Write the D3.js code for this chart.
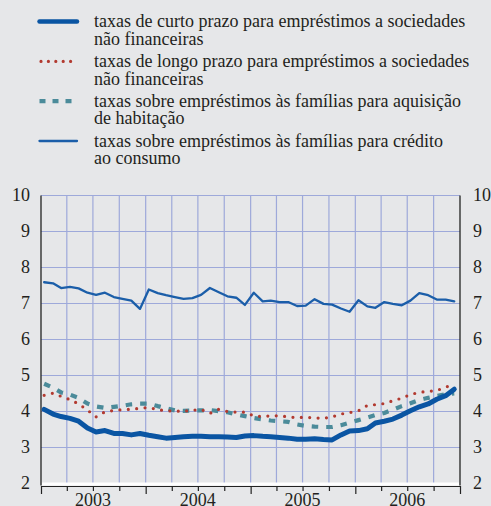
<!DOCTYPE html>
<html><head><meta charset="utf-8">
<script src="https://cdn.jsdelivr.net/npm/d3@7"></script>
<style>html,body{margin:0;padding:0;background:#e6e7e9;overflow:hidden}svg{display:block}</style>
</head><body><svg id="c" width="491" height="506"></svg>
<script>
// ---- data ----
const startMonth = new Date(2003, 0, 1);
const months = d3.timeMonth.range(new Date(2003, 0, 1), new Date(2007, 0, 1)); // Jan 2003 .. Dec 2006
const yearLabels = ["2003", "2004", "2005", "2006"];
const yTicks = [2, 3, 4, 5, 6, 7, 8, 9, 10];

const shortTerm = [4.06,3.93,3.86,3.81,3.73,3.54,3.43,3.47,3.39,3.39,3.35,3.39,
                   3.34,3.30,3.26,3.28,3.30,3.31,3.31,3.30,3.30,3.29,3.28,3.32,
                   3.33,3.31,3.30,3.28,3.26,3.23,3.23,3.24,3.22,3.21,3.35,3.46,
                   3.47,3.52,3.68,3.73,3.79,3.90,4.02,4.13,4.21,4.34,4.44,4.62];
const longTerm = [4.45,4.51,4.42,4.33,4.21,4.04,3.85,3.99,4.03,4.05,4.06,4.09,
                  4.11,4.05,4.02,4.01,4.01,4.03,4.06,3.95,4.06,4.00,3.98,3.98,
                  3.88,3.86,3.88,3.88,3.85,3.83,3.84,3.82,3.81,3.85,3.93,3.97,
                  4.02,4.17,4.19,4.22,4.30,4.37,4.47,4.53,4.56,4.58,4.68,4.74];
const housing = [4.77,4.66,4.53,4.47,4.38,4.22,4.14,4.10,4.13,4.16,4.20,4.22,
                 4.22,4.15,4.09,4.03,4.02,4.03,4.03,4.04,4.01,3.98,3.92,3.87,
                 3.82,3.78,3.75,3.73,3.71,3.64,3.60,3.58,3.57,3.57,3.62,3.69,
                 3.76,3.83,3.90,3.96,4.05,4.15,4.23,4.32,4.38,4.43,4.48,4.50];
const consumer = [7.59,7.56,7.43,7.46,7.42,7.30,7.24,7.30,7.18,7.13,7.08,6.85,
                  7.39,7.29,7.23,7.18,7.13,7.15,7.24,7.43,7.31,7.20,7.16,6.96,
                  7.30,7.06,7.08,7.04,7.04,6.93,6.94,7.12,6.99,6.97,6.86,6.77,
                  7.09,6.92,6.88,7.04,6.99,6.95,7.08,7.29,7.23,7.11,7.11,7.06];

const legendLabels = [
  ["taxas de curto prazo para empréstimos a sociedades", "não financeiras"],
  ["taxas de longo prazo para empréstimos a sociedades", "não financeiras"],
  ["taxas sobre empréstimos às famílias para aquisição", "de habitação"],
  ["taxas sobre empréstimos às famílias para crédito", "ao consumo"]
];

// ---- styles ----
const FONT = "'Liberation Serif','Times New Roman',serif";
const styles = [
  {color: "#0a55a3", width: 5, dash: null, cap: "round"},
  {color: "#b23a30", width: 3.2, dash: "0 8.4", cap: "round"},
  {color: "#4b8b9a", width: 4.2, dash: "6.5 8", cap: "butt"},
  {color: "#1b5ea9", width: 2.3, dash: null, cap: "round"}
];
const seriesData = [shortTerm, longTerm, housing, consumer];

const svg = d3.select("#c");
const L = 41, R = 460, T = 195.5, B = 483.5;

const x = d3.scaleTime().domain([new Date(2003,0,1), new Date(2007,0,1)]).range([L, R]);
const y = d3.scaleLinear().domain([2, 10]).range([B, T]);

// gridlines
const quarters = d3.timeMonth.every(3).range(new Date(2003,0,1), new Date(2007,0,2));
svg.append("g").selectAll("line.v").data(quarters.slice(1, -1)).join("line")
  .attr("x1", d => x(d)).attr("x2", d => x(d)).attr("y1", T).attr("y2", B)
  .attr("stroke", "#9ea9da").attr("stroke-width", 1.2);
svg.append("g").selectAll("line.h").data(yTicks.slice(1)).join("line")
  .attr("x1", L).attr("x2", R).attr("y1", d => y(d)).attr("y2", d => y(d))
  .attr("stroke", "#9ea9da").attr("stroke-width", 1.2);

// axes lines
svg.append("line").attr("x1", L).attr("x2", L).attr("y1", T).attr("y2", B+2)
  .attr("stroke", "#222").attr("stroke-width", 1.3);
svg.append("line").attr("x1", R).attr("x2", R).attr("y1", T).attr("y2", B+2)
  .attr("stroke", "#222").attr("stroke-width", 1.3);
svg.append("line").attr("x1", L+1).attr("x2", R-1).attr("y1", B+0.5).attr("y2", B+0.5)
  .attr("stroke", "#ffffff").attr("stroke-width", 3);

// bottom axis with quarterly ticks
const xAxis = d3.axisBottom(x).tickValues(quarters).tickFormat("").tickSizeOuter(0);
const gx = svg.append("g").attr("transform", `translate(0,${B+2.5})`).call(xAxis);
gx.select(".domain").attr("stroke", "#222").attr("stroke-width", 1.2);
gx.selectAll(".tick line").attr("stroke", "#222").attr("stroke-width", 1.2)
  .attr("y2", d => d.getMonth() === 0 ? 8 : 5);

// year labels (mid-year)
svg.append("g").selectAll("text").data(yearLabels).join("text")
  .attr("x", d => x(new Date(+d, 6, 1))).attr("y", 506)
  .attr("text-anchor", "middle").attr("font-family", FONT).attr("font-size", 18)
  .attr("fill", "#231f20").text(d => d);

// y labels left and right
const yAxisL = d3.axisLeft(y).tickValues(yTicks).tickSize(0).tickPadding(11);
const gl = svg.append("g").attr("transform", `translate(${L},0)`).call(yAxisL);
gl.select(".domain").remove();
gl.selectAll("text").attr("font-family", FONT).attr("font-size", 18).attr("fill", "#231f20").attr("dy", "0.28em");
const yAxisR = d3.axisRight(y).tickValues(yTicks).tickSize(0).tickPadding(13);
const gr = svg.append("g").attr("transform", `translate(${R},0)`).call(yAxisR);
gr.select(".domain").remove();
gr.selectAll("text").attr("font-family", FONT).attr("font-size", 18).attr("fill", "#231f20").attr("dy", "0.28em");

// series
const line = d3.line().x((d, i) => x(d3.timeDay.offset(months[i], 11))).y(d => y(d));
const drawOrder = [3, 2, 1, 0];
drawOrder.forEach(k => {
  const s = styles[k];
  svg.append("path").datum(seriesData[k]).attr("d", line)
    .attr("fill", "none").attr("stroke", s.color).attr("stroke-width", s.width)
    .attr("stroke-linejoin", "round").attr("stroke-linecap", s.cap)
    .attr("stroke-dasharray", s.dash);
});

// legend
const lg = svg.append("g");
legendLabels.forEach((lines, k) => {
  const base = 27.3 + k * 39.8;
  const s = styles[k];
  lg.append("line").attr("x1", k === 1 ? 41 : 39.5).attr("x2", 77).attr("y1", base - 5.7).attr("y2", base - 5.7)
    .attr("stroke", s.color).attr("stroke-width", k === 0 ? 4.5 : s.width)
    .attr("stroke-linecap", s.cap)
    .attr("stroke-dasharray", k === 1 ? "0 7.4" : (k === 2 ? "6 7" : null));
  const t = lg.append("text").attr("font-family", FONT).attr("font-size", 18).attr("fill", "#231f20");
  lines.forEach((ln, j) => {
    t.append("tspan").attr("x", 94).attr("y", base + j * 17.4).text(ln);
  });
});
</script>
</body></html>
